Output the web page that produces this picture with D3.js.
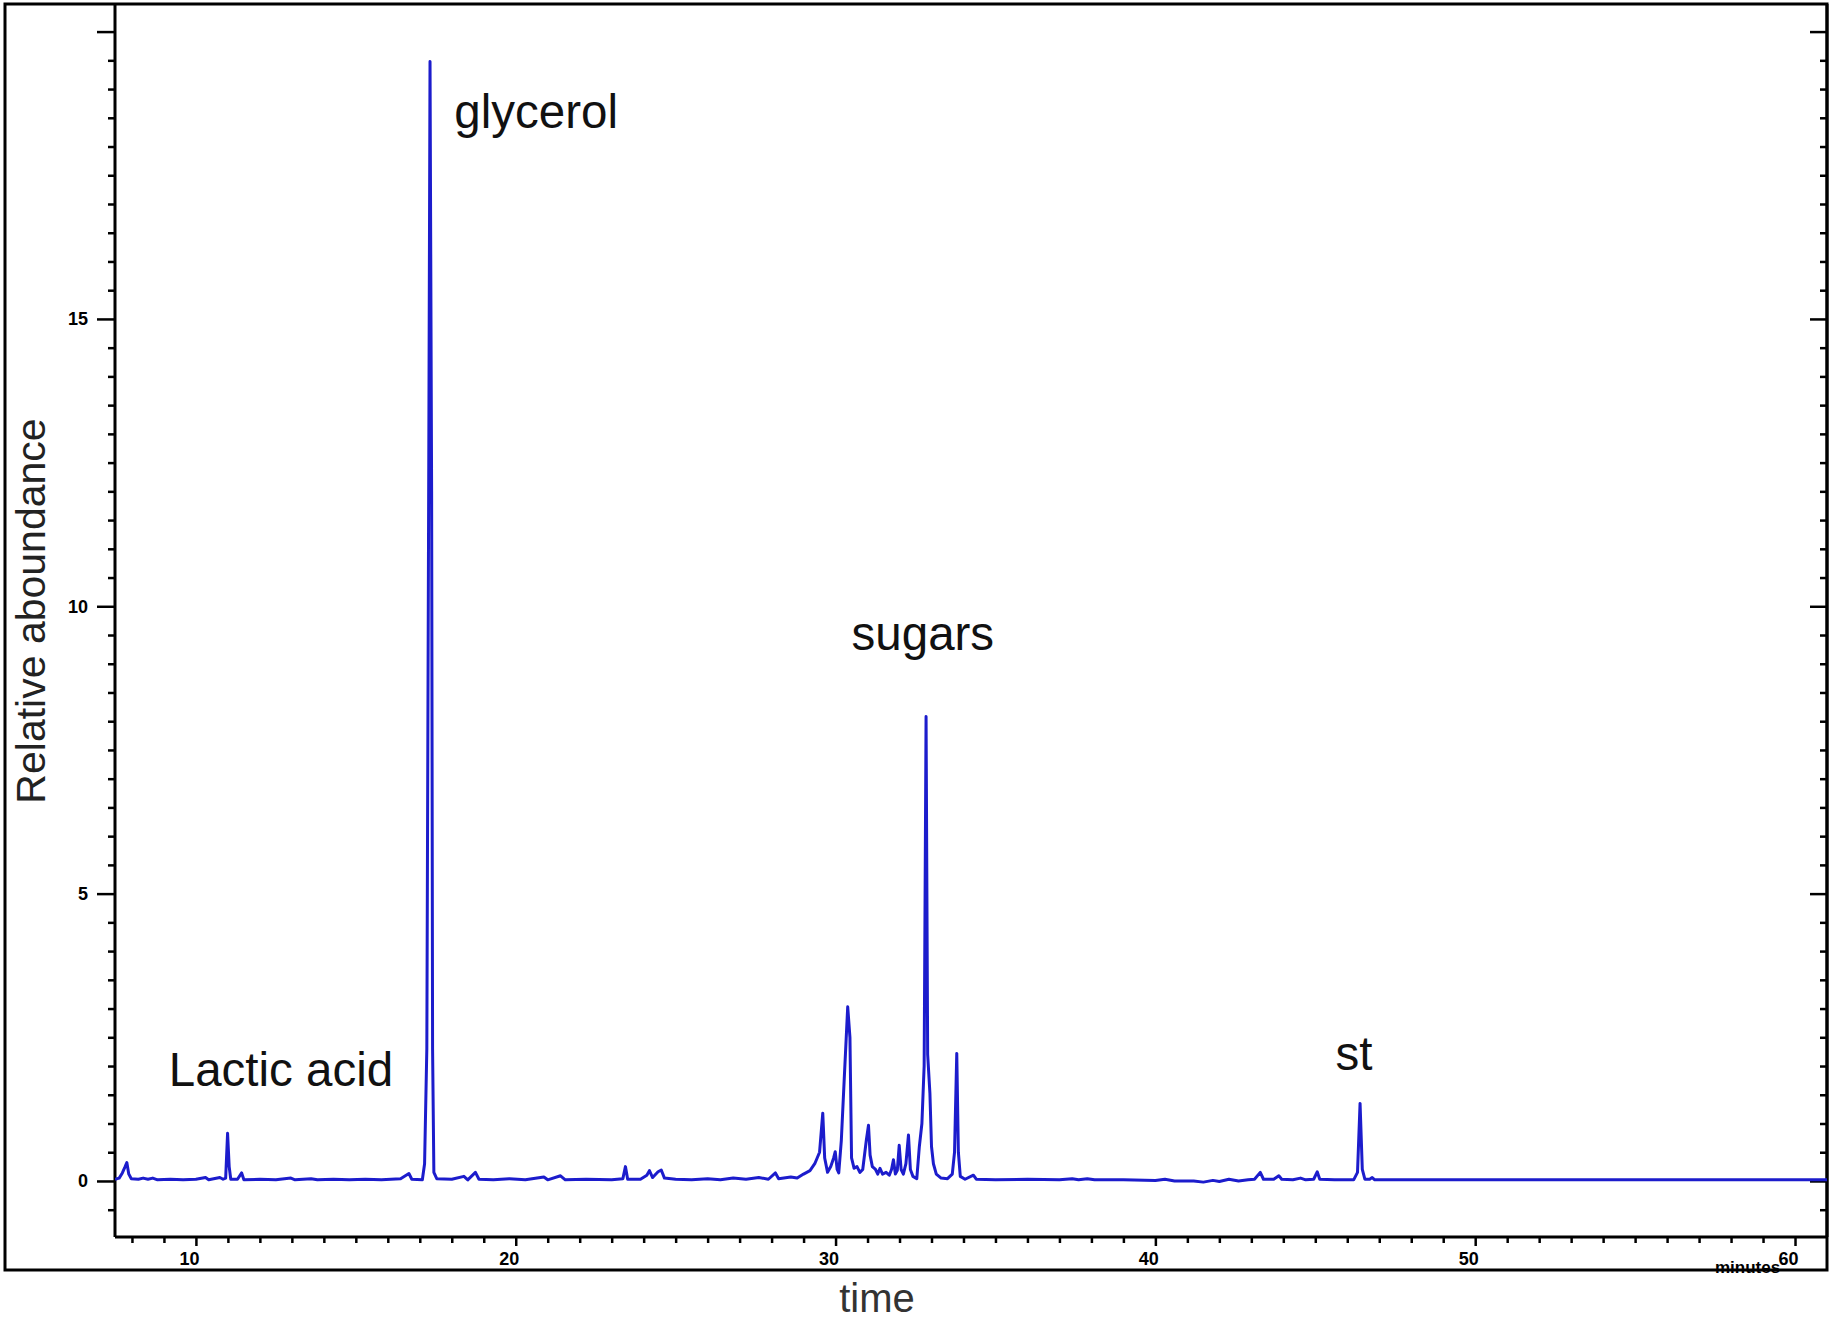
<!DOCTYPE html>
<html><head><meta charset="utf-8">
<script src="https://cdn.jsdelivr.net/npm/d3@7"></script>
<style>html,body{margin:0;padding:0;background:#fff;} svg{display:block;}</style>
</head><body>
<svg id="chart" width="1833" height="1323"></svg>
<script>
// ---- data ----
const retentionTime = [
 7.47,7.60,7.70,7.78,7.84,7.90,7.98,8.20,8.35,8.50,8.65,8.80,9.20,9.60,10.00,10.30,10.40,10.75,10.85,10.93,
 10.99,11.04,11.09,11.30,11.43,11.50,12.00,12.50,12.97,13.10,13.60,13.80,14.30,14.80,15.30,15.80,16.40,16.66,16.75,17.08,
 17.15,17.22,17.28,17.32,17.37,17.40,17.44,17.53,18.00,18.38,18.50,18.74,18.85,19.30,19.80,20.30,20.88,21.00,21.40,21.55,
 22.20,23.00,23.35,23.43,23.50,23.90,24.10,24.18,24.28,24.45,24.55,24.65,25.00,25.50,26.00,26.40,26.80,27.20,27.60,27.90,
 28.12,28.22,28.60,28.80,29.00,29.20,29.35,29.50,29.60,29.66,29.75,29.85,29.94,29.99,30.05,30.10,30.18,30.27,30.38,30.45,
 30.50,30.58,30.67,30.76,30.85,30.96,31.03,31.08,31.15,31.25,31.32,31.39,31.47,31.58,31.68,31.75,31.81,31.87,31.93,31.99,
 32.05,32.12,32.20,32.28,32.34,32.42,32.54,32.62,32.70,32.77,32.83,32.88,32.95,33.00,33.06,33.15,33.30,33.50,33.65,33.72,
 33.79,33.84,33.90,34.05,34.31,34.40,35.00,36.00,37.00,37.40,37.60,37.87,38.10,39.00,40.00,40.30,40.60,41.20,41.50,41.80,
 42.00,42.30,42.60,42.90,43.10,43.28,43.38,43.70,43.86,43.95,44.30,44.54,44.70,44.95,45.06,45.14,45.60,46.20,46.32,46.40,
 46.47,46.55,46.70,46.78,46.86,48.00,50.00,52.00,55.00,58.00,61.00
];
const abundance = [
 0.03,0.05,0.14,0.24,0.32,0.12,0.04,0.03,0.05,0.03,0.05,0.02,0.03,0.02,0.03,0.06,0.02,0.06,0.03,0.05,
 0.83,0.25,0.03,0.03,0.14,0.02,0.03,0.02,0.05,0.02,0.04,0.02,0.03,0.02,0.03,0.02,0.04,0.13,0.03,0.02,
 0.30,2.30,12.40,19.48,12.00,2.30,0.15,0.04,0.03,0.08,0.02,0.15,0.03,0.02,0.04,0.02,0.07,0.02,0.09,0.02,
 0.03,0.02,0.04,0.25,0.03,0.03,0.10,0.18,0.06,0.16,0.19,0.05,0.03,0.02,0.04,0.02,0.05,0.03,0.06,0.03,
 0.14,0.04,0.07,0.05,0.12,0.18,0.30,0.50,1.18,0.40,0.15,0.25,0.40,0.51,0.20,0.14,0.70,1.76,3.03,2.50,
 0.40,0.22,0.25,0.15,0.20,0.70,0.97,0.45,0.25,0.20,0.12,0.22,0.12,0.15,0.10,0.20,0.37,0.12,0.18,0.62,
 0.20,0.12,0.30,0.80,0.20,0.08,0.04,0.60,1.00,2.00,8.08,2.20,1.53,0.60,0.30,0.12,0.05,0.04,0.12,0.50,
 2.22,0.50,0.08,0.03,0.10,0.03,0.02,0.03,0.02,0.04,0.02,0.04,0.02,0.02,0.01,0.03,0.00,0.00,-0.02,0.01,
 -0.01,0.03,0.00,0.02,0.03,0.15,0.03,0.03,0.09,0.03,0.02,0.05,0.02,0.03,0.16,0.03,0.02,0.02,0.15,1.35,
 0.20,0.03,0.03,0.06,0.02,0.02,0.02,0.02,0.02,0.02,0.02
];
const xTickLabels = [10, 20, 30, 40, 50, 60];
const yTickLabels = [0, 5, 10, 15];
const yMajorUnlabeled = [20];
const peakNames = ["Lactic acid", "glycerol", "sugars", "st"];
const peakNameTime = [9.15, 18.08, 30.50, 45.63];
const peakNameLevel = [1.65, 18.32, 9.24, 1.93];
const xAxisTitle = "time";
const yAxisTitle = "Relative aboundance";
const xUnitLabel = "minutes";

// ---- layout ----
const svg = d3.select("#chart");
const plot = {left: 115, right: 1827, top: 4, bottom: 1237};
const x = d3.scaleLinear().domain([7.47, 61.0]).range([plot.left, plot.right]);
const y = d3.scaleLinear().domain([-0.975, 20.48]).range([plot.bottom, plot.top]);

svg.append("rect").attr("width", 1833).attr("height", 1323).attr("fill", "#fff");

// outer frame
svg.append("rect").attr("x", 5).attr("y", 4).attr("width", 1822).attr("height", 1266)
  .attr("fill", "none").attr("stroke", "#000").attr("stroke-width", 3);

const labelFont = "'Liberation Sans', Arial, sans-serif";

// y axis (left)
const yMinor = d3.range(-0.5, 20.01, 0.5).filter(v => v % 5 !== 0);
const yMajor = yTickLabels.concat(yMajorUnlabeled);
const gyMinor = svg.append("g").attr("transform", `translate(${plot.left},0)`)
  .call(d3.axisLeft(y).tickValues(yMinor).tickSize(7).tickSizeOuter(0).tickFormat(""));
const gyMajor = svg.append("g").attr("transform", `translate(${plot.left},0)`)
  .call(d3.axisLeft(y).tickValues(yMajor).tickSize(18).tickSizeOuter(0)
    .tickFormat(d => yTickLabels.includes(d) ? d : ""));
gyMajor.select(".domain").attr("d", `M0,${plot.top}V${plot.bottom}`);
gyMinor.select(".domain").remove();
gyMajor.selectAll("text").attr("x", -27).attr("font-size", 18).attr("font-weight", "bold")
  .attr("font-family", labelFont).attr("fill", "#000");

// right side ticks (inward)
const gyRminor = svg.append("g").attr("transform", `translate(${plot.right},0)`)
  .call(d3.axisRight(y).tickValues(yMinor).tickSize(-7).tickSizeOuter(0).tickFormat(""));
const gyRmajor = svg.append("g").attr("transform", `translate(${plot.right},0)`)
  .call(d3.axisRight(y).tickValues(yMajor).tickSize(-17).tickSizeOuter(0).tickFormat(""));
gyRminor.select(".domain").remove();
gyRmajor.select(".domain").attr("d", `M0,${plot.top}V${plot.bottom}`);

// x axis
const xMinor = d3.range(8, 61, 1).filter(v => v % 10 !== 0);
const gxMinor = svg.append("g").attr("transform", `translate(0,${plot.bottom})`)
  .call(d3.axisBottom(x).tickValues(xMinor).tickSize(6).tickSizeOuter(0).tickFormat(""));
gxMinor.select(".domain").remove();
const gxMajor = svg.append("g").attr("transform", `translate(0,${plot.bottom})`)
  .call(d3.axisBottom(x).tickValues(xTickLabels).tickSize(9).tickSizeOuter(0));
gxMajor.select(".domain").attr("d", `M${plot.left},0H${plot.right}`);
gxMajor.selectAll("text").attr("x", -7).attr("y", 15).attr("dy", "0.71em")
  .attr("font-size", 18).attr("font-weight", "bold").attr("font-family", labelFont).attr("fill", "#000");

svg.selectAll(".domain").attr("stroke", "#000").attr("stroke-width", 3);
svg.selectAll(".tick line").attr("stroke", "#000").attr("stroke-width", 2.5);

// chromatogram trace
svg.append("clipPath").attr("id", "clip").append("rect")
  .attr("x", plot.left).attr("y", plot.top).attr("width", plot.right - plot.left).attr("height", plot.bottom - plot.top);
const line = d3.line().x((d, i) => x(retentionTime[i])).y(d => y(d));
svg.append("path").datum(abundance).attr("clip-path", "url(#clip)")
  .attr("d", line).attr("fill", "none").attr("stroke", "#1c1ccc")
  .attr("stroke-width", 3).attr("stroke-linejoin", "round");

// peak annotations
svg.append("g").selectAll("text").data(peakNames).join("text")
  .attr("x", (d, i) => x(peakNameTime[i])).attr("y", (d, i) => y(peakNameLevel[i]))
  .attr("font-size", 47.5).attr("font-family", labelFont).attr("fill", "#111")
  .text(d => d);

// axis titles
svg.append("text").attr("x", 877).attr("y", 1312).attr("text-anchor", "middle")
  .attr("font-size", 40).attr("font-family", labelFont).attr("fill", "#333").text(xAxisTitle);
svg.append("text").attr("transform", "translate(45,611) rotate(-90)").attr("text-anchor", "middle")
  .attr("font-size", 41).attr("font-family", labelFont).attr("fill", "#222").text(yAxisTitle);
svg.append("text").attr("x", 1715).attr("y", 1273).attr("font-size", 17).attr("font-weight", "bold")
  .attr("font-family", labelFont).attr("fill", "#000").text(xUnitLabel);
</script>
</body></html>
